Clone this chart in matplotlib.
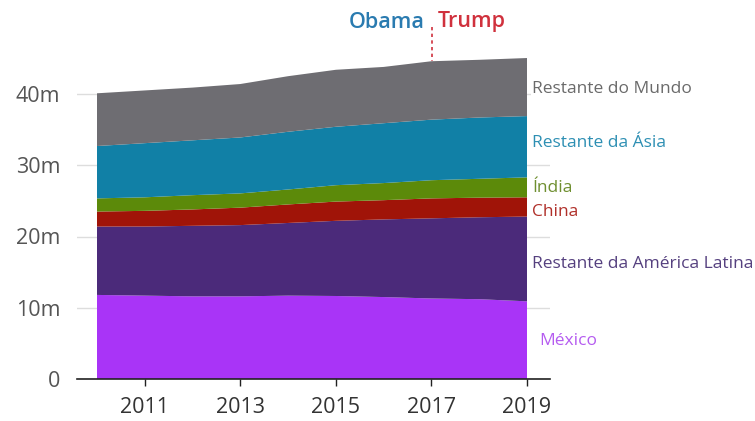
import matplotlib
matplotlib.use("Agg")
import matplotlib.pyplot as plt
import numpy as np

years = [2010, 2011, 2012, 2013, 2014, 2015, 2016, 2017, 2018, 2019]
mexico = [11.8, 11.7, 11.6, 11.6, 11.7, 11.65, 11.5, 11.3, 11.2, 10.9]
latam = [9.6, 9.7, 9.9, 10.0, 10.2, 10.55, 10.9, 11.25, 11.5, 11.9]
china = [2.1, 2.2, 2.3, 2.45, 2.6, 2.7, 2.7, 2.8, 2.75, 2.7]
india = [1.85, 1.9, 2.0, 2.0, 2.1, 2.3, 2.4, 2.55, 2.65, 2.8]
asia = [7.35, 7.6, 7.7, 7.85, 8.1, 8.2, 8.4, 8.5, 8.6, 8.6]
world = [7.4, 7.4, 7.4, 7.5, 7.8, 8.0, 7.9, 8.2, 8.1, 8.15]

series_names = ["México", "Restante da América Latina", "China", "Índia",
                "Restante da Ásia", "Restante do Mundo"]
fill_colors = ["#a934f7", "#4b2a7a", "#a01408", "#5c8a0a", "#1180a6", "#6e6d72"]
label_colors = ["#b55cf0", "#55407f", "#b0302a", "#6f8f30", "#2d8fb3", "#6a6a6a"]
label_y = [5.3, 16.1, 23.5, 26.8, 33.1, 40.7]

xticks = [2011, 2013, 2015, 2017, 2019]
yticks = [0, 10, 20, 30, 40]
ytick_labels = ["0", "10m", "20m", "30m", "40m"]

W, H = 755, 421
fig = plt.figure(figsize=(W / 100, H / 100), dpi=100)
fig.patch.set_facecolor("white")

px_per_year = (527 - 97) / 9
x_left = 2010 - (97 - 77) / px_per_year
x_right = 2019 + (550 - 527) / px_per_year
px_per_unit = (379 - 94) / 40
ymax = 46
top_px = 379 - ymax * px_per_unit
ax = fig.add_axes([77 / W, (H - 379) / H, (550 - 77) / W, (379 - top_px) / H])

data = [mexico, latam, china, india, asia, world]
ax.stackplot(years, *data, colors=fill_colors, linewidth=0, zorder=2)

ax.set_xlim(x_left, x_right)
ax.set_ylim(0, ymax)
ax.set_yticks(yticks)
ax.set_yticklabels(ytick_labels)
ax.set_xticks(xticks)
ax.set_xticklabels([str(x) for x in xticks])
for s in ["top", "right", "left"]:
    ax.spines[s].set_visible(False)
ax.spines["bottom"].set_color("#222222")
ax.spines["bottom"].set_linewidth(1.2)
ax.spines["bottom"].set_zorder(5)
ax.grid(axis="y", color="#dddddd", linewidth=1, zorder=0)
ax.set_axisbelow(True)
ax.tick_params(axis="y", length=0, pad=12, labelsize=15.5, labelcolor="#555555")
ax.tick_params(axis="x", length=5, width=1, color="#222222", pad=8,
               labelsize=15.5, labelcolor="#333333")
for lab in ax.get_xticklabels() + ax.get_yticklabels():
    lab.set_fontfamily("Open Sans")

# right-side labels
for name, col, yv in zip(series_names, label_colors, label_y):
    xpx = 539 if name == "México" else 532
    xoff = 2019 + (xpx - 527) / px_per_year
    ax.text(xoff, yv, name, color=col, fontsize=12.5, family="Open Sans",
            va="center", ha="left", clip_on=False, zorder=6,
            bbox=dict(facecolor="white", edgecolor="none", pad=1.0))

# Obama / Trump header
fig.text(425 / W, 1 - 22 / H, "Obama", color="#2a7bb0", fontsize=15.5,
         family="Open Sans", fontweight="semibold", ha="right", va="center")
fig.text(438 / W, 1 - 22 / H, "Trump", color="#d0313d", fontsize=15.5,
         family="Open Sans", fontweight="semibold", ha="left", va="center")
fig.add_artist(plt.Line2D([432 / W, 432 / W], [1 - 27 / H, 1 - 61 / H],
                          color="#d0313d", linestyle=(0, (2, 2)), linewidth=1.2))

fig.savefig("out.png", dpi=100)
